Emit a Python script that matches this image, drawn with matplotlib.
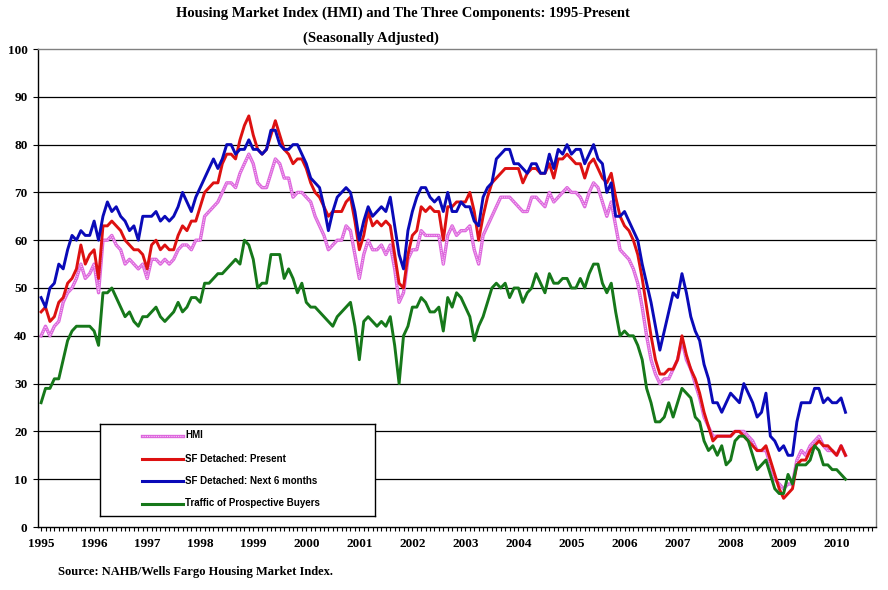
import numpy as np
import matplotlib
matplotlib.use("Agg")
import matplotlib.pyplot as plt

# monthly values, Jan 1995 .. Mar 2010
hmi = [
    40, 42, 40, 42, 43, 47, 49, 50, 52, 55, 52, 53,   # 1995
    55, 49, 60, 60, 61, 59, 58, 55, 56, 55, 54, 55,   # 1996
    52, 56, 56, 55, 56, 55, 56, 58, 59, 59, 58, 60,   # 1997
    60, 65, 66, 67, 68, 70, 72, 72, 71, 74, 76, 78,   # 1998
    76, 72, 71, 71, 74, 77, 76, 73, 73, 69, 70, 70,   # 1999
    69, 68, 65, 63, 61, 58, 59, 60, 60, 63, 62, 57,   # 2000
    52, 57, 60, 58, 58, 59, 57, 59, 54, 47, 49, 56,   # 2001
    58, 58, 62, 61, 61, 61, 61, 55, 61, 63, 61, 62,   # 2002
    62, 63, 58, 55, 61, 63, 65, 67, 69, 69, 69, 68,   # 2003
    67, 66, 66, 69, 69, 68, 67, 70, 68, 69, 70, 71,   # 2004
    70, 70, 69, 67, 70, 72, 71, 68, 65, 68, 63, 58,   # 2005
    57, 56, 54, 51, 46, 40, 35, 32, 30, 31, 31, 33,   # 2006
    35, 39, 35, 33, 30, 27, 23, 21, 19, 19, 19, 19,   # 2007
    19, 20, 20, 20, 19, 18, 16, 16, 16, 13, 10, 9,    # 2008
    8, 9, 9, 14, 16, 15, 17, 18, 19, 17, 16, 16,      # 2009
    15, 17, 15,                                       # 2010
]
sf_present = [
    45, 46, 43, 44, 47, 48, 51, 52, 54, 59, 55, 57,
    58, 52, 63, 63, 64, 63, 62, 60, 59, 58, 58, 57,
    54, 59, 60, 58, 59, 58, 58, 61, 63, 62, 64, 64,
    67, 70, 71, 72, 72, 76, 78, 78, 77, 81, 84, 86,
    82, 79, 78, 79, 82, 85, 82, 79, 78, 76, 77, 77,
    75, 72, 70, 69, 67, 65, 66, 66, 66, 68, 69, 64,
    58, 61, 66, 63, 64, 63, 64, 63, 57, 51, 50, 57,
    61, 62, 67, 66, 67, 66, 66, 60, 67, 67, 68, 68,
    68, 70, 66, 60, 65, 69, 72, 73, 74, 75, 75, 75,
    75, 72, 74, 75, 75, 74, 74, 76, 73, 77, 77, 78,
    77, 76, 76, 73, 76, 77, 75, 73, 72, 74, 69, 65,
    63, 62, 60, 57, 52, 46, 40, 35, 32, 32, 33, 33,
    35, 40, 36, 33, 31, 28, 24, 21, 18, 19, 19, 19,
    19, 20, 20, 19, 18, 17, 16, 16, 17, 14, 11, 8,
    6, 7, 8, 13, 14, 14, 16, 17, 18, 17, 17, 16,
    15, 17, 15,
]
sf_next6 = [
    48, 46, 50, 51, 55, 54, 58, 61, 60, 62, 61, 61,
    64, 60, 65, 68, 66, 67, 65, 64, 62, 63, 60, 65,
    65, 65, 66, 64, 65, 64, 65, 67, 70, 68, 66, 69,
    71, 73, 75, 77, 75, 77, 80, 80, 78, 79, 79, 81,
    79, 79, 78, 79, 83, 83, 80, 79, 79, 80, 80, 78,
    76, 73, 72, 71, 67, 62, 66, 69, 70, 71, 70, 66,
    60, 64, 67, 65, 66, 67, 66, 69, 63, 57, 54, 62,
    66, 69, 71, 71, 69, 68, 69, 66, 70, 66, 66, 68,
    67, 67, 64, 63, 69, 71, 72, 77, 78, 79, 79, 76,
    76, 75, 74, 76, 76, 74, 74, 78, 75, 79, 78, 80,
    78, 79, 79, 76, 78, 80, 77, 76, 70, 72, 65, 65,
    66, 64, 62, 60, 55, 51, 47, 42, 37, 41, 45, 49,
    48, 53, 49, 44, 41, 39, 34, 31, 26, 26, 24, 26,
    28, 27, 26, 30, 28, 26, 23, 24, 28, 19, 18, 16,
    17, 15, 15, 22, 26, 26, 26, 29, 29, 26, 27, 26,
    26, 27, 24,
]
traffic = [
    26, 29, 29, 31, 31, 35, 39, 41, 42, 42, 42, 42,
    41, 38, 49, 49, 50, 48, 46, 44, 45, 43, 42, 44,
    44, 45, 46, 44, 43, 44, 45, 47, 45, 46, 48, 48,
    47, 51, 51, 52, 53, 53, 54, 55, 56, 55, 60, 59,
    56, 50, 51, 51, 57, 57, 57, 52, 54, 52, 49, 51,
    47, 46, 46, 45, 44, 43, 42, 44, 45, 46, 47, 42,
    35, 43, 44, 43, 42, 43, 42, 44, 38, 30, 40, 42,
    46, 46, 48, 47, 45, 45, 46, 41, 48, 46, 49, 48,
    46, 44, 39, 42, 44, 47, 50, 51, 50, 51, 48, 50,
    50, 47, 49, 50, 53, 51, 49, 53, 51, 51, 52, 52,
    50, 50, 52, 50, 53, 55, 55, 51, 49, 51, 45, 40,
    41, 40, 40, 38, 35, 29, 26, 22, 22, 23, 26, 23,
    26, 29, 28, 27, 23, 22, 18, 16, 17, 15, 17, 13,
    14, 18, 19, 19, 18, 15, 12, 13, 14, 11, 8, 7,
    7, 11, 9, 13, 13, 13, 14, 17, 16, 13, 13, 12,
    12, 11, 10,
]
years = list(range(1995, 2011))
names = ["HMI", "SF Detached: Present", "SF Detached: Next 6 months",
         "Traffic of Prospective Buyers"]
colors = ["#DD66DD", "#DD1111", "#0A0AB8", "#16781A"]

serif = "Liberation Serif"
sans = "Liberation Sans"
W, H = 888, 590

fig = plt.figure(figsize=(W / 100, H / 100), dpi=100)
ax = fig.add_axes([38 / W, 1 - 527 / H, (876 - 38) / W, (527 - 49) / H])

x = np.arange(len(hmi))
series = [hmi, sf_present, sf_next6, traffic]

for yv in range(10, 100, 10):
    ax.axhline(yv, color="black", lw=0.9, zorder=1)


def draw_hmi(axis, xs, ys):
    axis.plot(xs, ys, color=colors[0], lw=2.4, zorder=2)
    axis.plot(xs, ys, color="#F6C8F6", lw=0.8, ls=(0, (1, 1)), zorder=2)


draw_hmi(ax, x, hmi)
for s, c in zip(series[1:], colors[1:]):
    ax.plot(x, s, color=c, lw=2.1, zorder=3)

ax.set_xlim(-0.7, 188.9)
ax.set_ylim(0, 100)
ax.set_yticks(range(0, 101, 10))
ax.set_xticks([12 * i for i in range(len(years))])
ax.set_xticklabels([str(y) for y in years])
ax.set_xticks(np.arange(0, 189), minor=True)
ax.tick_params(axis="x", which="both", direction="out", length=3, width=0.8,
               pad=5, color="black")
ax.tick_params(axis="y", direction="out", length=3.5, width=0.8, pad=4)
for lab in ax.get_xticklabels() + ax.get_yticklabels():
    lab.set_fontfamily(serif)
    lab.set_fontweight("bold")
    lab.set_fontsize(9.5)

for side in ["left", "bottom"]:
    ax.spines[side].set_color("black")
    ax.spines[side].set_linewidth(1.0)
for side in ["top", "right"]:
    ax.spines[side].set_color("#808080")
    ax.spines[side].set_linewidth(1.0)

# legend box
lax = fig.add_axes([100 / W, 1 - 516 / H, 275 / W, 92 / H])
lax.set_xlim(0, 275)
lax.set_ylim(92, 0)
lax.set_xticks([])
lax.set_yticks([])
for sp in lax.spines.values():
    sp.set_color("black")
    sp.set_linewidth(1.0)
rows = [11.5, 34.5, 56.5, 79.5]
draw_hmi(lax, [42, 83], [rows[0], rows[0]])
for name, c, r in zip(names[1:], colors[1:], rows[1:]):
    lax.plot([42, 83], [r, r], color=c, lw=2.2)
for name, r in zip(names, rows):
    lax.text(85, r, name, fontsize=7, fontweight="bold", family=sans,
             va="center", ha="left")

fig.text(403 / W, 1 - 13 / H,
         "Housing Market Index (HMI) and The Three Components: 1995-Present",
         ha="center", va="center", fontsize=10.5, fontweight="bold", family=serif)
fig.text(371 / W, 1 - 38 / H, "(Seasonally Adjusted)",
         ha="center", va="center", fontsize=10.5, fontweight="bold", family=serif)
fig.text(58 / W, 1 - 572 / H, "Source: NAHB/Wells Fargo Housing Market Index.",
         ha="left", va="center", fontsize=9, fontweight="bold", family=serif)

fig.savefig("out.png", dpi=100, facecolor="white")
